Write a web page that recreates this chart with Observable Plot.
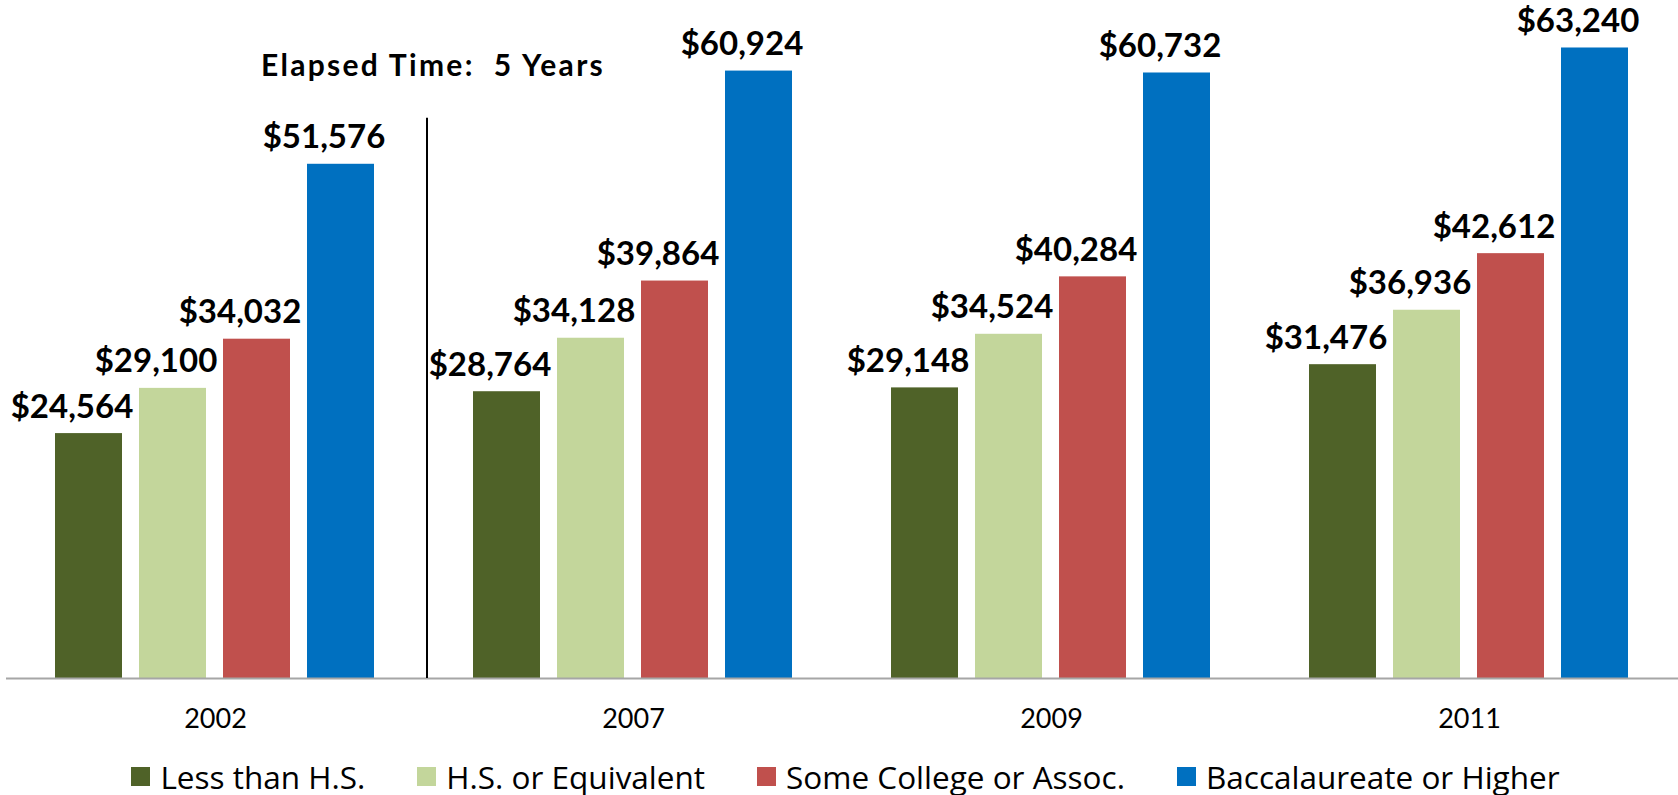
<!DOCTYPE html>
<html>
<head>
<meta charset="utf-8">
<script src="https://cdn.jsdelivr.net/npm/d3@7"></script>
<script src="https://cdn.jsdelivr.net/npm/@observablehq/plot@0.6"></script>
<style>
  body { margin: 0; background: #fff; font-family: Lato, sans-serif; }
  #chart svg text { white-space: pre; }
  .lg-swatches { font-family: "Open Sans", sans-serif !important; font-size: 31.5px !important; color: #000 !important;
    margin: 3px 0 0 13px !important; justify-content: center !important; }
  .lg-swatch { margin-right: 52px !important; }
  .lg-swatch:last-child { margin-right: 0 !important; }
  .lg-swatch > svg { margin-right: 10px !important; }
</style>
</head>
<body>
<div id="chart"></div>
<script>
// ---- data ----
const years = ["2002", "2007", "2009", "2011"];
const levels = ["Less than H.S.", "H.S. or Equivalent", "Some College or Assoc.", "Baccalaureate or Higher"];
const lessThanHS    = [24564, 28764, 29148, 31476];
const hsEquivalent  = [29100, 34128, 34524, 36936];
const someCollege   = [34032, 39864, 40284, 42612];
const baccalaureate = [51576, 60924, 60732, 63240];
const colors = ["#4F6228", "#C3D69B", "#C0504D", "#0070C0"];
const annotationText = "Elapsed Time:  5 Years";
const annotationYear = "2007";
const annotationTextY = 60480;   // in $ units
const annotationRuleTop = 56200; // in $ units

const series = [lessThanHS, hsEquivalent, someCollege, baccalaureate];
const rows = [];
years.forEach((year, i) => {
  levels.forEach((level, j) => rows.push({year, level, value: series[j][i]}));
});
const fmt = d3.format("$,");

const chart = Plot.plot({
  width: 1678,
  height: 752,
  marginLeft: 6,
  marginRight: 0,
  marginTop: 10,
  marginBottom: 74,
  style: {fontFamily: "Lato, sans-serif", background: "#fff", overflow: "visible", color: "#000"},
  fx: {domain: years, padding: 0, label: null},
  x: {domain: levels, paddingInner: 0.2, paddingOuter: 0.588, axis: null},
  y: {domain: [0, 67000], axis: null},
  color: {domain: levels, range: colors},
  marks: [
    Plot.barY(rows, {fx: "year", x: "level", y: "value", fill: "level"}),
    Plot.ruleY([0], {stroke: "#A6A6A6", strokeWidth: 2}),
    Plot.text(rows, {
      fx: "year", x: "level", y: "value", text: d => fmt(d.value),
      lineAnchor: "bottom", dy: -16, dx: -17,
      fontSize: 33, fontWeight: "bold", fill: "#000"
    }),
    Plot.ruleX([annotationYear], {
      fx: d => d, x: () => levels[0], y1: 0, y2: annotationRuleTop,
      dx: -80, stroke: "#000", strokeWidth: 2
    }),
    Plot.text([annotationYear], {
      fx: d => d, x: () => levels[0], y: annotationTextY, text: () => annotationText,
      lineAnchor: "bottom", dx: -74, fontSize: 30, fontWeight: "bold", fill: "#000"
    }),
    Plot.axisFx({anchor: "bottom", tickSize: 0, tickPadding: 30, fontSize: 27, label: null, fill: "#000"})
  ]
});

// widen the annotation slightly to match the original typeface's width
d3.select(chart).selectAll("text")
  .filter(function () { return this.textContent === annotationText; })
  .style("letter-spacing", "2.3px");

const legend = chart.legend("color", {className: "lg", swatchSize: 19});
const root = document.getElementById("chart");
root.appendChild(chart);
root.appendChild(legend);
</script>
</body>
</html>
